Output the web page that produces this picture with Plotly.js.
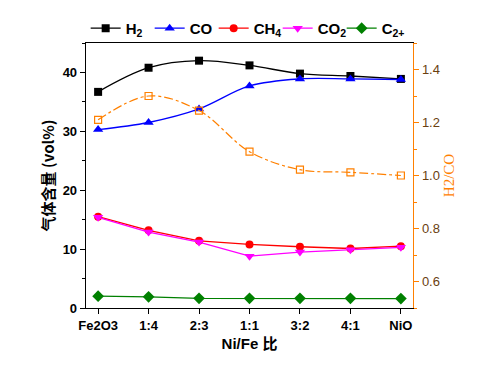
<!DOCTYPE html>
<html><head><meta charset="utf-8">
<script src="https://cdn.plot.ly/plotly-3.0.1.min.js"></script>
<style>body{margin:0;background:#fff}#c{width:482px;height:371px}</style>
</head><body><div id="c"></div>
<script>
const categories = ["Fe2O3","1:4","2:3","1:1","3:2","4:1","NiO"];
const h2  = [36.7, 40.8, 42.0, 41.2, 39.8, 39.4, 38.9];
const co  = [30.3, 31.5, 33.8, 37.7, 38.9, 38.9, 38.8];
const ch4 = [15.5, 13.2, 11.4, 10.8, 10.4, 10.1, 10.5];
const co2 = [15.4, 12.9, 11.2, 8.8, 9.5, 9.9, 10.3];
const c2p = [2.0, 1.9, 1.65, 1.65, 1.65, 1.65, 1.6];
const h2co = [1.21, 1.30, 1.245, 1.09, 1.022, 1.012, 1.0];
const leftTicks = [0,10,20,30,40];
const rightTicks = [0.6,0.8,1.0,1.2,1.4];

const xi = categories.map((_,i)=>i);
function tr(y,name,color,symbol,size,shape){
  return {x:xi,y:y,name:name,type:'scatter',mode:'lines+markers',
    line:{color:color,width:1.3,shape:shape||'linear',smoothing:1},
    marker:{color:color,symbol:symbol,size:size}};
}
const traces=[
  tr(h2,'H<sub>2</sub>','#000000','square',8,'spline'),
  tr(co,'CO','#0000FF','triangle-up',9,'spline'),
  tr(ch4,'CH<sub>4</sub>','#FF0000','circle',8),
  tr(co2,'CO<sub>2</sub>','#FF00FF','triangle-down',9),
  tr(c2p,'C<sub>2+</sub>','#008000','diamond',9),
  {x:xi,y:h2co,name:'H2/CO',yaxis:'y2',type:'scatter',mode:'lines+markers',showlegend:false,
   line:{color:'#FF8000',width:1.2,dash:'dashdot',shape:'spline',smoothing:1},
   marker:{color:'#FF8000',symbol:'square-open',size:7,line:{width:1.2}}}
];
const tickFont={family:'Liberation Sans, Arial',size:13,color:'#000'};
const layout={
  width:482,height:371,
  margin:{l:86,r:69,t:43,b:63},
  paper_bgcolor:'#fff',plot_bgcolor:'#fff',
  showlegend:true,
  legend:{orientation:'h',x:-0.001,xanchor:'left',y:1.055,yanchor:'middle',
    font:{family:'Liberation Sans, Arial',size:15,color:'#000',weight:'bold'},
    bgcolor:'rgba(0,0,0,0)',itemwidth:30,tracegroupgap:0,entrywidth:19,entrywidthmode:'pixels'},
  xaxis:{range:[-0.24,6.24],tickvals:xi,ticktext:categories,
    showline:true,linecolor:'#000',linewidth:1.3,mirror:true,
    ticks:'outside',ticklen:5,tickcolor:'#000',showgrid:false,zeroline:false,
    tickfont:{...tickFont,weight:'bold'},
    title:{text:'Ni/Fe 比',font:{family:'Liberation Sans, Noto Sans CJK SC',size:15,weight:'bold',color:'#000'},standoff:6}},
  yaxis:{range:[0,45],tickvals:leftTicks,showline:true,linecolor:'#000',linewidth:1.3,
    ticks:'outside',ticklen:5,tickcolor:'#000',showgrid:false,zeroline:false,
    minor:{dtick:5,ticks:'outside',ticklen:3,tickcolor:'#000'},
    tickfont:{...tickFont,weight:'bold'},
    title:{text:'气体含量 (vol%)',font:{family:'Noto Sans CJK SC, Liberation Sans',size:15,weight:'bold',color:'#000'},standoff:4}},
  yaxis2:{range:[0.5,1.5],overlaying:'y',side:'right',tickvals:rightTicks,tickformat:'.1f',
    showline:true,linecolor:'#FF8000',linewidth:1.3,
    ticks:'outside',ticklen:5,tickcolor:'#FF8000',showgrid:false,zeroline:false,
    minor:{dtick:0.1,ticks:'outside',ticklen:3,tickcolor:'#FF8000'},
    tickfont:{family:'Liberation Sans, Arial',size:13,color:'#6a4010'},
    title:{text:'H2/CO',font:{family:'Liberation Serif, Times New Roman',size:15,color:'#FF8000'},standoff:4}}
};
Plotly.newPlot('c',traces,layout,{displayModeBar:false,staticPlot:true});
</script></body></html>
